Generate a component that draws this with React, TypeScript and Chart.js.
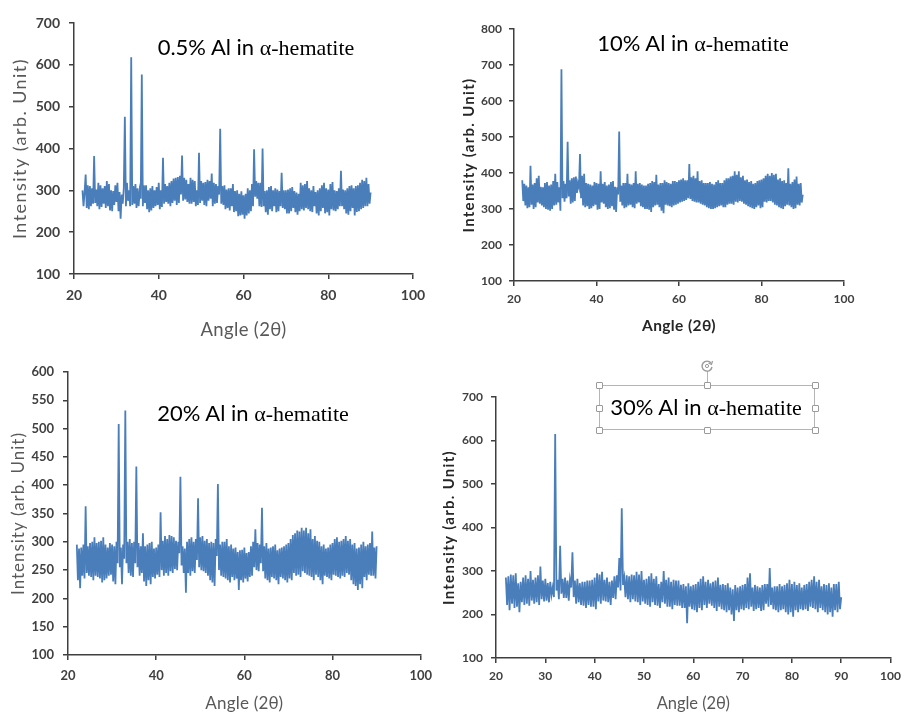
import React, { useEffect, useRef } from 'react';
import { Chart, registerables } from 'chart.js';

Chart.register(...registerables);

// 2θ sampling (degrees), rows of 5°
const ANGLES = [
  22, 22.25, 22.5, 22.75, 23, 23.25, 23.5, 23.75, 24, 24.25, 24.5, 24.75, 25, 25.25, 25.5, 25.75, 26, 26.25, 26.5, 26.75,
  27, 27.25, 27.5, 27.75, 28, 28.25, 28.5, 28.75, 29, 29.25, 29.5, 29.75, 30, 30.25, 30.5, 30.75, 31, 31.25, 31.5, 31.75,
  32, 32.25, 32.5, 32.75, 33, 33.25, 33.5, 33.75, 34, 34.25, 34.5, 34.75, 35, 35.25, 35.5, 35.75, 36, 36.25, 36.5, 36.75,
  37, 37.25, 37.5, 37.75, 38, 38.25, 38.5, 38.75, 39, 39.25, 39.5, 39.75, 40, 40.25, 40.5, 40.75, 41, 41.25, 41.5, 41.75,
  42, 42.25, 42.5, 42.75, 43, 43.25, 43.5, 43.75, 44, 44.25, 44.5, 44.75, 45, 45.25, 45.5, 45.75, 46, 46.25, 46.5, 46.75,
  47, 47.25, 47.5, 47.75, 48, 48.25, 48.5, 48.75, 49, 49.25, 49.5, 49.75, 50, 50.25, 50.5, 50.75, 51, 51.25, 51.5, 51.75,
  52, 52.25, 52.5, 52.75, 53, 53.25, 53.5, 53.75, 54, 54.25, 54.5, 54.75, 55, 55.25, 55.5, 55.75, 56, 56.25, 56.5, 56.75,
  57, 57.25, 57.5, 57.75, 58, 58.25, 58.5, 58.75, 59, 59.25, 59.5, 59.75, 60, 60.25, 60.5, 60.75, 61, 61.25, 61.5, 61.75,
  62, 62.25, 62.5, 62.75, 63, 63.25, 63.5, 63.75, 64, 64.25, 64.5, 64.75, 65, 65.25, 65.5, 65.75, 66, 66.25, 66.5, 66.75,
  67, 67.25, 67.5, 67.75, 68, 68.25, 68.5, 68.75, 69, 69.25, 69.5, 69.75, 70, 70.25, 70.5, 70.75, 71, 71.25, 71.5, 71.75,
  72, 72.25, 72.5, 72.75, 73, 73.25, 73.5, 73.75, 74, 74.25, 74.5, 74.75, 75, 75.25, 75.5, 75.75, 76, 76.25, 76.5, 76.75,
  77, 77.25, 77.5, 77.75, 78, 78.25, 78.5, 78.75, 79, 79.25, 79.5, 79.75, 80, 80.25, 80.5, 80.75, 81, 81.25, 81.5, 81.75,
  82, 82.25, 82.5, 82.75, 83, 83.25, 83.5, 83.75, 84, 84.25, 84.5, 84.75, 85, 85.25, 85.5, 85.75, 86, 86.25, 86.5, 86.75,
  87, 87.25, 87.5, 87.75, 88, 88.25, 88.5, 88.75, 89, 89.25, 89.5, 89.75, 90,
];

// 0.5% Al in α-hematite
const AL_05 = [
  300, 262, 295, 338, 258, 312, 255, 310, 262, 305, 268, 382, 270, 302, 262, 318, 255, 312, 260, 305,
  268, 310, 258, 322, 262, 315, 252, 300, 250, 298, 265, 312, 272, 318, 250, 296, 232, 290, 268, 305,
  476, 262, 318, 275, 300, 262, 618, 265, 310, 268, 315, 258, 305, 262, 298, 280, 577, 262, 312, 270,
  312, 255, 300, 248, 305, 252, 310, 258, 300, 262, 308, 265, 318, 255, 300, 260, 378, 268, 315, 272,
  310, 268, 318, 262, 322, 270, 328, 275, 330, 265, 332, 270, 335, 290, 383, 275, 330, 278, 325, 272,
  315, 268, 330, 268, 325, 272, 322, 262, 300, 265, 390, 270, 322, 275, 318, 265, 320, 262, 325, 275,
  322, 280, 340, 262, 318, 268, 315, 270, 310, 290, 447, 268, 310, 265, 312, 255, 302, 258, 305, 252,
  305, 262, 315, 248, 298, 250, 300, 238, 292, 240, 298, 242, 288, 232, 292, 240, 305, 245, 300, 250,
  315, 262, 398, 285, 322, 280, 318, 262, 318, 260, 400, 262, 298, 248, 300, 242, 308, 255, 310, 250,
  300, 262, 305, 248, 302, 250, 298, 262, 342, 258, 300, 255, 300, 245, 302, 245, 305, 250, 308, 258,
  298, 248, 295, 242, 292, 250, 318, 255, 312, 252, 315, 258, 322, 255, 305, 250, 300, 248, 310, 262,
  296, 245, 300, 240, 305, 250, 312, 258, 318, 245, 305, 248, 302, 240, 315, 255, 320, 252, 300, 250,
  298, 255, 305, 262, 347, 262, 302, 255, 300, 245, 305, 242, 310, 250, 312, 258, 305, 240, 310, 248,
  312, 250, 318, 255, 325, 258, 322, 262, 330, 262, 315, 268, 295,
];

// 10% Al in α-hematite
const AL_10 = [
  380, 322, 370, 310, 365, 302, 360, 305, 420, 312, 368, 300, 372, 305, 385, 318, 392, 315, 362, 310,
  360, 305, 372, 300, 375, 298, 365, 295, 368, 300, 378, 310, 398, 312, 375, 318, 360, 295, 688, 330,
  378, 320, 370, 330, 487, 335, 380, 315, 385, 318, 388, 322, 390, 345, 372, 360, 453, 330, 392, 310,
  398, 305, 372, 308, 370, 300, 368, 302, 365, 308, 375, 312, 372, 298, 370, 300, 405, 318, 370, 315,
  375, 305, 365, 300, 368, 302, 375, 308, 378, 298, 362, 292, 360, 340, 515, 320, 365, 310, 372, 302,
  372, 305, 398, 310, 370, 312, 368, 305, 372, 302, 405, 315, 370, 318, 372, 308, 368, 305, 365, 300,
  365, 300, 370, 298, 372, 292, 378, 305, 375, 310, 395, 312, 368, 305, 372, 295, 372, 288, 380, 312,
  375, 310, 372, 308, 370, 305, 378, 310, 378, 312, 375, 315, 380, 318, 382, 320, 385, 322, 380, 325,
  380, 330, 425, 328, 388, 322, 392, 320, 385, 318, 405, 318, 378, 315, 380, 312, 372, 310, 372, 305,
  372, 302, 375, 300, 370, 300, 368, 302, 375, 305, 380, 308, 372, 310, 372, 305, 380, 305, 385, 312,
  385, 315, 390, 315, 392, 312, 405, 320, 395, 318, 405, 322, 388, 320, 392, 315, 380, 312, 382, 308,
  375, 305, 378, 302, 370, 300, 372, 305, 378, 310, 380, 302, 382, 305, 385, 320, 392, 318, 398, 322,
  392, 322, 400, 318, 395, 312, 398, 310, 382, 305, 385, 302, 378, 300, 380, 308, 372, 312, 413, 310,
  370, 305, 375, 300, 382, 302, 390, 312, 370, 310, 372, 318, 340,
];

// 20% Al in α-hematite
const AL_20 = [
  295, 232, 288, 218, 290, 240, 295, 235, 363, 245, 292, 240, 298, 238, 300, 232, 308, 240, 298, 238,
  300, 235, 302, 228, 308, 232, 295, 235, 290, 240, 298, 242, 295, 230, 292, 225, 300, 262, 508, 255,
  290, 225, 295, 270, 532, 262, 300, 245, 305, 240, 298, 238, 300, 262, 433, 255, 298, 240, 292, 245,
  315, 230, 292, 222, 295, 232, 298, 225, 300, 238, 288, 235, 290, 242, 295, 238, 352, 250, 302, 240,
  310, 245, 305, 240, 312, 248, 310, 245, 308, 252, 302, 250, 300, 280, 415, 258, 292, 245, 288, 210,
  300, 245, 305, 240, 308, 248, 300, 245, 305, 268, 377, 255, 308, 250, 310, 248, 302, 245, 305, 240,
  298, 232, 300, 228, 298, 222, 305, 275, 402, 250, 295, 240, 300, 238, 300, 235, 305, 232, 292, 228,
  295, 238, 288, 232, 290, 235, 282, 215, 285, 232, 286, 228, 290, 235, 280, 230, 282, 238, 292, 240,
  300, 255, 322, 250, 298, 248, 295, 262, 360, 248, 292, 235, 298, 232, 288, 228, 290, 238, 292, 235,
  295, 232, 285, 225, 288, 238, 290, 235, 292, 232, 295, 228, 298, 235, 305, 232, 312, 245, 315, 240,
  320, 242, 318, 238, 325, 248, 320, 245, 325, 242, 315, 240, 322, 238, 305, 232, 310, 242, 302, 238,
  300, 232, 292, 225, 295, 240, 288, 238, 290, 235, 295, 232, 298, 242, 305, 240, 308, 238, 300, 235,
  302, 240, 305, 238, 310, 245, 302, 242, 305, 232, 295, 225, 298, 222, 288, 215, 290, 225, 295, 218,
  300, 238, 292, 232, 295, 242, 298, 240, 318, 240, 290, 235, 292,
];

// 30% Al in α-hematite
const AL_30 = [
  285, 222, 288, 210, 292, 225, 290, 215, 295, 218, 272, 205, 275, 228, 285, 222, 290, 225, 282, 220,
  300, 232, 280, 225, 285, 228, 290, 222, 310, 235, 278, 230, 282, 232, 272, 228, 275, 245, 262, 240,
  615, 255, 280, 235, 358, 248, 282, 238, 285, 238, 278, 232, 280, 262, 343, 240, 278, 225, 282, 228,
  272, 222, 275, 220, 275, 215, 278, 222, 278, 218, 280, 218, 285, 212, 295, 230, 292, 225, 298, 232,
  280, 230, 285, 228, 275, 222, 278, 238, 288, 235, 290, 262, 330, 255, 444, 268, 285, 240, 290, 235,
  288, 228, 292, 235, 290, 230, 298, 228, 292, 222, 300, 230, 280, 225, 282, 222, 288, 218, 295, 228,
  282, 222, 288, 220, 270, 215, 275, 228, 300, 225, 280, 218, 285, 218, 275, 212, 280, 222, 278, 220,
  278, 220, 268, 215, 270, 215, 265, 180, 272, 218, 265, 212, 268, 210, 270, 205, 275, 215, 282, 210,
  288, 222, 275, 215, 280, 225, 272, 220, 275, 215, 278, 208, 285, 218, 268, 212, 270, 210, 268, 205,
  272, 210, 262, 200, 258, 185, 268, 210, 262, 205, 265, 212, 268, 210, 270, 215, 285, 212, 295, 218,
  262, 208, 268, 212, 265, 215, 262, 208, 268, 210, 270, 225, 270, 218, 307, 222, 262, 212, 265, 210,
  265, 205, 270, 210, 265, 212, 268, 205, 272, 200, 280, 205, 270, 195, 275, 210, 268, 205, 272, 212,
  262, 210, 268, 212, 270, 208, 275, 218, 280, 215, 288, 212, 275, 205, 280, 215, 265, 210, 270, 205,
  268, 200, 272, 205, 262, 195, 270, 210, 270, 205, 275, 212, 240,
];

const X_TITLE = 'Angle (2θ)';
const Y_TITLE = 'Intensity (arb. Unit)';

const LINE_COLOR = '#4a7ebb';
const AXIS_COLOR = '#3f3f3f';
const TICK_COLOR = '#404040';
const FAMILY = 'Lato, "Open Sans", sans-serif';

type Font = { size: number; weight: string };
type PanelCfg = {
  x: number; y: number; w: number; h: number;
  area: { L: number; R: number; T: number; B: number };
  values: number[];
  xMax: number; xStep: number;
  yMin: number; yMax: number; yStep: number;
  tickFont: Font;
  yTickPad: number; xTickPad: number;
  yTitleFont: Font; yTitleColor: string; yTitlePad: number; yTitleLen: number;
  xTitleFont: Font; xTitleColor: string; xTitlePad: number; xTitleLen: number;
};

const PANELS: PanelCfg[] = [
  {
    x: 0, y: 0, w: 440, h: 345,
    area: { L: 74, R: 413, T: 23, B: 274 },
    values: AL_05, xMax: 100, xStep: 20, yMin: 100, yMax: 700, yStep: 100,
    tickFont: { size: 14, weight: 'bold' }, yTickPad: 9, xTickPad: 8,
    yTitleFont: { size: 18, weight: 'normal' }, yTitleColor: '#595959', yTitlePad: 9, yTitleLen: 181,
    xTitleFont: { size: 18.5, weight: 'normal' }, xTitleColor: '#595959', xTitlePad: 4, xTitleLen: 86,
  },
  {
    x: 450, y: 0, w: 457, h: 345,
    area: { L: 514, R: 844, T: 29, B: 281 },
    values: AL_10, xMax: 100, xStep: 20, yMin: 100, yMax: 800, yStep: 100,
    tickFont: { size: 12, weight: 'bold' }, yTickPad: 7, xTickPad: 6,
    yTitleFont: { size: 15, weight: 'bold' }, yTitleColor: '#262626', yTitlePad: 10, yTitleLen: 155,
    xTitleFont: { size: 15.5, weight: 'bold' }, xTitleColor: '#262626', xTitlePad: 10, xTitleLen: 74,
  },
  {
    x: 0, y: 345, w: 440, h: 368,
    area: { L: 68, R: 423, T: 372, B: 655 },
    values: AL_20, xMax: 100, xStep: 20, yMin: 100, yMax: 600, yStep: 50,
    tickFont: { size: 13, weight: 'bold' }, yTickPad: 9, xTickPad: 8,
    yTitleFont: { size: 17, weight: 'normal' }, yTitleColor: '#595959', yTitlePad: 8, yTitleLen: 163,
    xTitleFont: { size: 17, weight: 'normal' }, xTitleColor: '#595959', xTitlePad: -1, xTitleLen: 78,
  },
  {
    x: 436, y: 345, w: 471, h: 368,
    area: { L: 496, R: 897, T: 397, B: 658 },
    values: AL_30, xMax: 100, xStep: 10, yMin: 100, yMax: 700, yStep: 100,
    tickFont: { size: 12, weight: 'bold' }, yTickPad: 8, xTickPad: 6,
    yTitleFont: { size: 15, weight: 'bold' }, yTitleColor: '#262626', yTitlePad: 4, yTitleLen: 155,
    xTitleFont: { size: 16.5, weight: 'normal' }, xTitleColor: '#595959', xTitlePad: -1, xTitleLen: 73,
  },
];

// Stretch an axis title to the reference length using canvas letter spacing
function stretchTitle(s: any, font: Font, target: number) {
  if (s.__stretched) return;
  s.__stretched = true;
  const orig = s.drawTitle;
  s.drawTitle = function () {
    const c = this.ctx as any;
    const text = String(this.options.title.text);
    c.save();
    c.letterSpacing = '0px';
    c.font = `${font.weight} ${font.size}px ${FAMILY}`;
    const w = c.measureText(text).width;
    c.restore();
    const n = Array.from(text).length;
    const sp = (target - w) / n;
    const prev = c.letterSpacing;
    c.letterSpacing = `${sp.toFixed(2)}px`;
    orig.call(this);
    c.letterSpacing = prev || '0px';
  };
}

function Panel({ cfg }: { cfg: PanelCfg }) {
  const ref = useRef<HTMLCanvasElement>(null);
  useEffect(() => {
    const canvas = ref.current;
    if (!canvas) return;
    const { L, R, T, B } = cfg.area;
    const yWidth = L - cfg.x;
    const xHeight = cfg.y + cfg.h - B;
    const padRight = cfg.x + cfg.w - R;
    const padTop = T - cfg.y;
    const n = Math.min(ANGLES.length, cfg.values.length);
    const pts = [] as { x: number; y: number }[];
    for (let i = 0; i < n; i++) pts.push({ x: ANGLES[i], y: cfg.values[i] });
    const chart = new Chart(canvas, {
      type: 'line',
      data: {
        datasets: [
          {
            data: pts,
            borderColor: LINE_COLOR,
            borderWidth: 1.8,
            pointRadius: 0,
            tension: 0,
            fill: false,
          },
        ],
      },
      options: {
        animation: false,
        responsive: false,
        maintainAspectRatio: false,
        devicePixelRatio: 1,
        layout: { padding: { left: 0, right: padRight, top: padTop, bottom: 0 } },
        plugins: {
          legend: { display: false },
          tooltip: { enabled: false },
          title: { display: false },
        },
        scales: {
          x: {
            type: 'linear',
            min: 20,
            max: cfg.xMax,
            ticks: {
              stepSize: cfg.xStep,
              color: TICK_COLOR,
              padding: cfg.xTickPad,
              font: { family: FAMILY, size: cfg.tickFont.size, weight: cfg.tickFont.weight as any },
              maxRotation: 0,
            },
            grid: { drawOnChartArea: false, drawTicks: true, tickLength: 5, color: AXIS_COLOR, lineWidth: 1.5 },
            border: { display: true, color: AXIS_COLOR, width: 1.5 },
            title: {
              display: true,
              text: X_TITLE,
              color: cfg.xTitleColor,
              padding: { top: 0, bottom: cfg.xTitlePad },
              font: { family: FAMILY, size: cfg.xTitleFont.size, weight: cfg.xTitleFont.weight as any },
            },
            afterFit: (s: any) => {
              s.height = xHeight;
              stretchTitle(s, cfg.xTitleFont, cfg.xTitleLen);
            },
          },
          y: {
            type: 'linear',
            min: cfg.yMin,
            max: cfg.yMax,
            ticks: {
              stepSize: cfg.yStep,
              color: TICK_COLOR,
              padding: cfg.yTickPad,
              font: { family: FAMILY, size: cfg.tickFont.size, weight: cfg.tickFont.weight as any },
            },
            grid: { drawOnChartArea: false, drawTicks: true, tickLength: 5, color: AXIS_COLOR, lineWidth: 1.5 },
            border: { display: true, color: AXIS_COLOR, width: 1.5 },
            title: {
              display: true,
              text: Y_TITLE,
              color: cfg.yTitleColor,
              padding: { top: cfg.yTitlePad, bottom: 0 },
              font: { family: FAMILY, size: cfg.yTitleFont.size, weight: cfg.yTitleFont.weight as any },
            },
            afterFit: (s: any) => {
              s.width = yWidth;
              stretchTitle(s, cfg.yTitleFont, cfg.yTitleLen);
            },
          },
        },
      },
    });
    return () => chart.destroy();
  }, [cfg]);
  return (
    <canvas
      ref={ref}
      width={cfg.w}
      height={cfg.h}
      style={{ position: 'absolute', left: cfg.x, top: cfg.y, width: cfg.w, height: cfg.h }}
    />
  );
}

type TitleCfg = { pct: string; cx: number; top: number };
const TITLES: TitleCfg[] = [
  { pct: '0.5%', cx: 256, top: 36 },
  { pct: '10%', cx: 693, top: 32 },
  { pct: '20%', cx: 253, top: 402 },
  { pct: '30%', cx: 706, top: 396 },
];

function Title({ t }: { t: TitleCfg }) {
  return (
    <div
      style={{
        position: 'absolute',
        left: t.cx,
        top: t.top,
        transform: 'translateX(-50%)',
        whiteSpace: 'nowrap',
        fontSize: 22,
        lineHeight: '22px',
        color: '#000',
      }}
    >
      <span style={{ fontFamily: FAMILY }}>{t.pct} Al in </span>
      <span style={{ fontFamily: '"Liberation Serif", "Times New Roman", serif' }}>α-hematite</span>
    </div>
  );
}

function Handle({ x, y }: { x: number; y: number }) {
  return (
    <div
      style={{
        position: 'absolute',
        left: x - 3,
        top: y - 3,
        width: 5,
        height: 5,
        background: '#fff',
        border: '1px solid #9a9a9a',
        borderRadius: 1,
      }}
    />
  );
}

function SelectionBox() {
  const x0 = 599, x1 = 815, y0 = 385, y1 = 430;
  const xm = (x0 + x1) / 2, ym = (y0 + y1) / 2;
  return (
    <>
      <div
        style={{
          position: 'absolute',
          left: x0,
          top: y0,
          width: x1 - x0,
          height: y1 - y0,
          border: '1px solid #b5b5b5',
          boxSizing: 'border-box',
        }}
      />
      <div style={{ position: 'absolute', left: xm, top: 371, width: 1, height: y0 - 371, background: '#b5b5b5' }} />
      <svg style={{ position: 'absolute', left: xm - 8, top: 358, width: 16, height: 16 }} viewBox="0 0 16 16">
        <path d="M 12 5 A 5 5 0 1 0 13 9" fill="none" stroke="#9a9a9a" strokeWidth="1.4" />
        <path d="M 13.5 3 L 12.5 6.5 L 9.5 5" fill="none" stroke="#9a9a9a" strokeWidth="1.2" />
        <circle cx="8" cy="8" r="1.6" fill="none" stroke="#9a9a9a" strokeWidth="1" />
      </svg>
      <Handle x={x0} y={y0} />
      <Handle x={xm} y={y0} />
      <Handle x={x1} y={y0} />
      <Handle x={x0} y={ym} />
      <Handle x={x1} y={ym} />
      <Handle x={x0} y={y1} />
      <Handle x={xm} y={y1} />
      <Handle x={x1} y={y1} />
    </>
  );
}

export default function App() {
  return (
    <div
      style={{
        position: 'absolute',
        left: 0,
        top: 0,
        width: 907,
        height: 713,
        overflow: 'hidden',
        background: '#fff',
      }}
    >
      {PANELS.map((p, i) => (
        <Panel key={i} cfg={p} />
      ))}
      {TITLES.map((t, i) => (
        <Title key={i} t={t} />
      ))}
      <SelectionBox />
    </div>
  );
}
